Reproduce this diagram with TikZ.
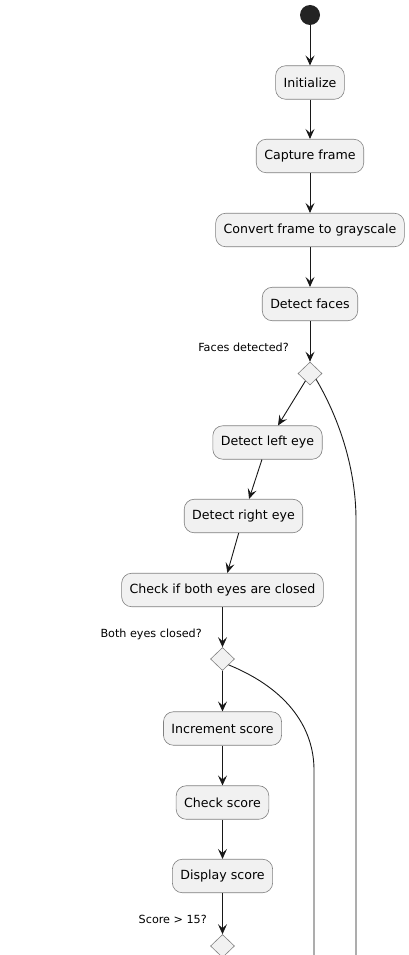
\documentclass[tikz,border=0pt]{standalone}
\usepackage{fontspec}
\setmainfont{DejaVu Sans}
\usetikzlibrary{calc}
\usetikzlibrary{positioning}
\usetikzlibrary{shapes.geometric}
\usetikzlibrary{arrows.meta}
\definecolor{box-fill}{RGB}{241, 241, 241}
\definecolor{box-line}{RGB}{128, 128, 128}
\definecolor{flow-line}{RGB}{24, 24, 24}
\tikzset{
    activity/.style={draw=box-line, fill=box-fill, rounded corners=10pt, line width=0.6pt,
        inner xsep=8pt, inner ysep=0pt, minimum height=33.5pt, font=\fontsize{12.6}{14}\selectfont},
    choice/.style={diamond, draw=box-line, fill=box-fill, line width=0.6pt, inner sep=0pt,
        minimum width=24pt, minimum height=23pt},
    guard/.style={anchor=east, inner sep=0pt, font=\fontsize{11.2}{13}\selectfont},
    flow/.style={draw=flow-line, line width=0.9pt, -{Stealth[length=10pt, width=9pt, inset=4pt]}},
    branch/.style={draw=flow-line, line width=0.9pt}
}

\begin{document}
\begin{tikzpicture}[x=1pt, y=-1pt]
                \useasboundingbox (0, 0) rectangle (409, 955);
                \fill[flow-line!95!white] (310, 15) circle (10) coordinate (start);
                \node[activity] (init) at (310, 82.5) {Initialize};
                \node[activity] (capture) at (310, 156) {Capture frame};
                \node[activity] (gray) at (310, 230) {Convert frame to grayscale};
                \node[activity] (faces) at (310, 304) {Detect faces};
                \node[choice] (facesQ) at (310, 373.5) {};
                \node[guard] (facesLbl) at (289, 347) {Faces detected?};
                \node[activity] (leftEye) at (267.5, 442.5) {Detect left eye};
                \node[activity] (rightEye) at (243.5, 516) {Detect right eye};
                \node[activity] (closed) at (222.5, 590) {Check if both eyes are closed};
                \node[choice] (closedQ) at (222.5, 659) {};
                \node[guard] (closedLbl) at (202, 634) {Both eyes closed?};
                \node[activity] (incr) at (222.5, 728.5) {Increment score};
                \node[activity] (check) at (222.5, 802.5) {Check score};
                \node[activity] (show) at (222.5, 876) {Display score};
                \node[choice] (scoreQ) at (222.5, 946) {};
                \node[guard] (scoreLbl) at (207, 919) {Score > 15?};
                \coordinate (facesEnd) at (356, 955);
                \coordinate (closedEnd) at (314, 955);

                \draw[flow] ($(start)+(0, 10)$) -- (init);
                \draw[flow] (init) -- (capture);
                \draw[flow] (capture) -- (gray);
                \draw[flow] (gray) -- (faces);
                \draw[flow] (faces) -- (facesQ);
                \draw[flow] (facesQ) -- (leftEye);
                \draw[flow] (leftEye) -- (rightEye);
                \draw[flow] (rightEye) -- (closed);
                \draw[flow] (closed) -- (closedQ);
                \draw[flow] (closedQ) -- (incr);
                \draw[flow] (incr) -- (check);
                \draw[flow] (check) -- (show);
                \draw[flow] (show) -- (scoreQ);
                \draw[branch] (facesQ.south east) .. controls (340, 420) and (356, 470) .. (356, 520) -- (facesEnd);
                \draw[branch] (closedQ.south east) .. controls (290, 690) and (314, 730) .. (314, 770) -- (closedEnd);
            \end{tikzpicture}
\end{document}
